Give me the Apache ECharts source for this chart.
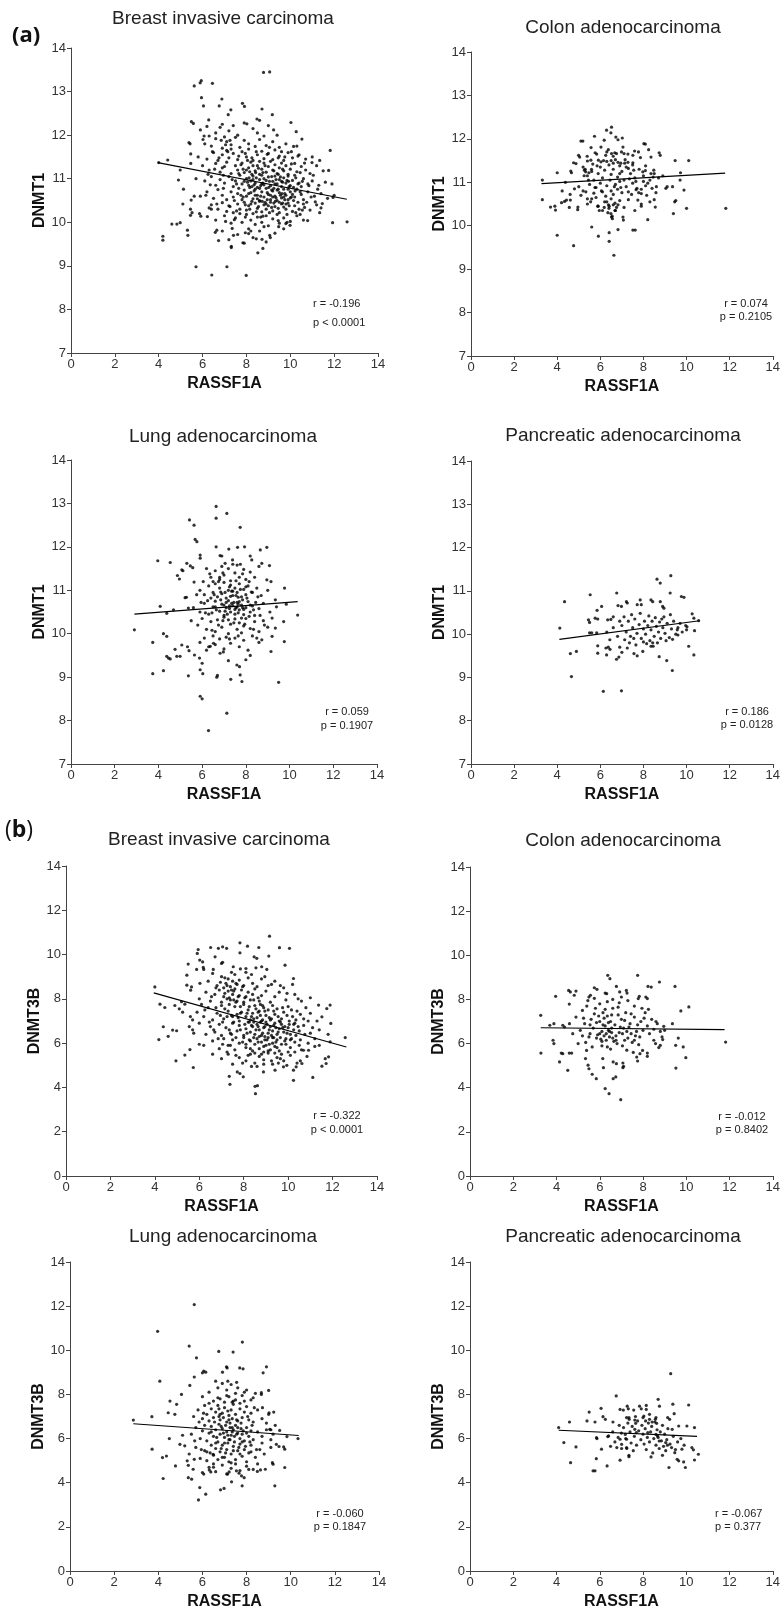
<!DOCTYPE html>
<html lang="en">
<head>
<meta charset="UTF-8">
<title>RASSF1A vs DNMT1 / DNMT3B</title>
<style>
  html, body { margin: 0; padding: 0; background: #fff; }
  #main { width: 783px; height: 1611px; }
</style>
</head>
<body>
<div id="main"></div>
<script src="https://cdn.jsdelivr.net/npm/echarts@6/dist/echarts.min.js"></script>
<script>
// ---- data: [RASSF1A, DNMT] ----
var breastDnmt1 = [
  [8.78,13.44],[9.06,13.45],[5.94,13.25],[5.89,13.2],[5.62,13.13],[6.45,13.19],[5.95,12.86],[6.04,12.67],[6.88,12.83],[7.82,12.73],[7.91,12.66],[8.71,12.6],[6.76,12.67],[7.29,12.58],[7.17,12.47],[9.18,12.47],[5.49,12.31],[5.58,12.27],[8.48,12.37],[8.6,12.34],[10.03,12.29],[10.27,12.08],[5.43,11.8],[5.38,11.83],[6.07,11.98],[6.02,11.9],[6.28,12.35],[8.02,12.26],[9.24,12.12],[10.53,11.91],[10.15,11.74],[11.82,11.65],[11.34,11.42],[10.99,11.37],[11.75,11.19],[5.46,11.57],[5.46,11.35],[4.98,11.2],[4.41,11.43],[4.0,11.37],[4.9,10.97],[5.13,10.76],[5.1,10.42],[5.48,10.51],[5.62,10.6],[5.45,10.3],[5.52,10.22],[5.45,10.16],[5.86,10.2],[5.92,10.14],[6.3,10.33],[6.4,10.3],[4.6,9.96],[4.83,9.96],[4.98,9.99],[4.19,9.68],[4.19,9.59],[5.31,9.82],[5.33,9.7],[5.7,8.98],[6.42,8.79],[7.11,8.98],[7.99,8.78],[8.52,9.3],[8.75,9.4],[7.31,9.45],[7.31,9.42],[7.84,9.53],[8.71,9.61],[6.73,9.58],[6.65,9.82],[6.58,9.77],[6.22,10.13],[11.93,9.99],[12.59,10.01],[10.79,10.04],[11.95,10.57],[11.46,10.43],[11.4,10.33],[11.34,10.22],[11.14,10.47],[9.47,9.9],[9.06,9.7],[9.09,9.65],[8.1,9.74],[8.2,9.8],[7.41,9.7],[9.8,9.97],[9.99,9.93],
  [6.2,12.2],[6.6,12.05],[6.9,12.25],[7.2,12.1],[7.4,12.22],[7.6,12.0],[8.3,12.15],[8.5,12.05],[9.0,12.22],[9.4,12.0],[6.8,12.18],[7.9,12.28],[5.9,12.12],
  [6.1,11.8],[6.4,11.75],[6.6,11.92],[6.9,11.7],[7.1,11.85],[7.3,11.78],[7.5,11.95],[7.7,11.72],[7.9,11.88],[8.1,11.8],[8.4,11.74],[8.6,11.9],[8.9,11.76],[9.2,11.85],[9.5,11.72],[9.8,11.8],[10.3,11.75],[6.3,11.98],[7.0,11.96],[8.8,11.98],
  [5.8,11.5],[6.2,11.45],[6.5,11.6],[6.7,11.42],[6.9,11.55],[7.1,11.65],[7.2,11.48],[7.4,11.58],[7.6,11.44],[7.8,11.62],[8.0,11.5],[8.1,11.68],[8.3,11.42],[8.5,11.55],[8.7,11.63],[8.8,11.46],[9.0,11.58],[9.2,11.44],[9.3,11.66],[9.5,11.52],[9.7,11.42],[9.9,11.6],[10.1,11.48],[10.4,11.55],[10.7,11.45],[11.0,11.5],[7.3,11.68],[8.6,11.4],[9.6,11.62],
  [6.0,11.3],[6.3,11.2],[6.6,11.35],[6.8,11.15],[7.0,11.28],[7.1,11.38],[7.3,11.12],[7.5,11.3],[7.6,11.2],[7.8,11.36],[7.9,11.14],[8.1,11.25],[8.2,11.38],[8.4,11.18],[8.5,11.3],[8.6,11.1],[8.7,11.22],[8.8,11.36],[8.9,11.15],[9.0,11.28],[9.1,11.4],[9.2,11.2],[9.3,11.32],[9.4,11.12],[9.5,11.25],[9.6,11.36],[9.7,11.18],[9.8,11.3],[9.9,11.1],[10.0,11.22],[10.2,11.35],[10.3,11.16],[10.5,11.28],[10.7,11.2],[10.9,11.12],[11.2,11.3],[11.5,11.18],[8.0,11.2],[8.3,11.3],[9.15,11.05],[6.9,11.25],
  [5.7,11.0],[6.1,10.95],[6.4,11.05],[6.6,10.85],[6.8,10.98],[7.0,10.9],[7.2,11.05],[7.4,10.82],[7.5,10.95],[7.7,11.08],[7.8,10.88],[8.0,11.0],[8.1,10.85],[8.2,10.95],[8.3,11.06],[8.4,10.9],[8.5,10.8],[8.6,10.98],[8.7,11.08],[8.8,10.86],[8.9,10.96],[9.0,11.04],[9.1,10.84],[9.2,10.94],[9.3,11.06],[9.4,10.88],[9.5,10.98],[9.6,10.82],[9.7,11.02],[9.8,10.9],[9.9,11.06],[10.0,10.84],[10.1,10.96],[10.2,11.08],[10.4,10.9],[10.5,10.82],[10.6,11.0],[10.8,10.88],[11.0,10.95],[11.3,10.85],[11.6,10.92],[11.9,10.88],[8.25,10.82],[9.45,11.1],[8.75,10.9],[9.65,10.92],[7.9,10.94],
  [5.9,10.6],[6.2,10.7],[6.5,10.55],[6.7,10.75],[6.9,10.62],[7.1,10.52],[7.3,10.7],[7.4,10.58],[7.6,10.66],[7.8,10.52],[7.9,10.74],[8.0,10.6],[8.2,10.68],[8.3,10.54],[8.4,10.76],[8.5,10.62],[8.6,10.5],[8.7,10.7],[8.8,10.58],[8.9,10.78],[9.0,10.64],[9.1,10.52],[9.2,10.72],[9.3,10.6],[9.4,10.5],[9.5,10.68],[9.6,10.56],[9.7,10.76],[9.8,10.62],[9.9,10.52],[10.0,10.7],[10.2,10.58],[10.3,10.76],[10.5,10.64],[10.6,10.52],[10.8,10.7],[11.1,10.6],[11.4,10.66],[11.7,10.55],[12.0,10.62],[8.15,10.8],[9.25,10.78],
  [6.4,10.4],[6.7,10.3],[6.9,10.45],[7.1,10.25],[7.2,10.38],[7.4,10.22],[7.6,10.42],[7.7,10.3],[7.9,10.46],[8.0,10.28],[8.1,10.38],[8.3,10.2],[8.4,10.44],[8.5,10.32],[8.7,10.24],[8.8,10.4],[8.9,10.3],[9.1,10.46],[9.2,10.26],[9.3,10.36],[9.5,10.22],[9.6,10.42],[9.8,10.3],[9.9,10.44],[10.1,10.25],[10.2,10.38],[10.4,10.3],[10.6,10.42],[10.9,10.28],[11.2,10.4],[8.6,10.48],[9.7,10.35],
  [6.6,10.05],[7.0,10.15],[7.3,9.98],[7.5,10.1],[7.8,10.0],[8.0,10.18],[8.2,10.05],[8.4,9.95],[8.5,10.12],[8.7,10.0],[8.9,10.15],[9.0,9.92],[9.2,10.08],[9.4,10.18],[9.5,9.98],[9.7,10.1],[10.0,10.02],[10.3,10.15],[10.6,10.05],[8.8,9.9],[7.7,10.2],
  [6.9,9.8],[7.2,9.6],[7.6,9.72],[8.1,9.85],[8.3,9.65],[8.6,9.8],[8.9,9.55],[9.3,9.75],[9.7,9.85],[7.9,9.52],
  [7.55,10.88],[7.65,11.12],[7.75,10.62],[7.85,11.22],[7.95,10.4],[8.05,10.92],[8.15,11.16],[8.25,10.48],[8.35,10.72],[8.45,11.02],[8.55,10.36],[8.65,10.84],[8.75,11.14],[8.85,10.46],[8.95,10.68],[9.05,10.94],[9.15,10.34],[9.25,11.18],[9.35,10.56],[9.45,10.76],[9.55,11.04],[9.65,10.44],[9.75,10.66],[9.85,10.96],[9.95,10.38],[10.05,10.58],[10.15,10.8],[10.25,11.02],[10.35,10.46],[10.45,10.7],[10.55,10.94],[10.65,10.34],
  [7.45,10.5],[7.55,10.26],[7.65,10.78],[7.75,11.32],[7.85,10.58],[7.95,10.12],[8.05,11.42],[8.15,10.3],[8.25,11.1],[8.35,10.86],[8.45,10.24],[8.55,11.24],[8.65,10.6],[8.75,10.14],[8.85,11.3],[8.95,10.52],[9.05,10.22],[9.15,10.74],[9.25,10.44],[9.35,10.98],[9.45,10.32],[9.55,10.62],[9.65,11.22],[9.75,10.52],[9.85,10.18],[9.95,10.82],[10.05,11.34],[10.15,10.5],[10.25,10.22],[10.35,10.88],[10.45,11.14],[10.55,10.28],
  [8.1,10.66],[8.3,10.98],[8.5,10.54],[8.7,10.88],[8.9,10.42],[9.1,10.62],[9.3,10.88],[9.5,10.46],[9.7,10.58],[9.9,10.76],[10.1,10.64],[8.2,10.42],[8.4,10.62],[8.6,10.78],[8.8,11.0],[9.0,10.38],[9.2,10.58],[9.4,10.74],[9.6,10.94],[9.8,10.42],[10.0,10.56],[8.12,11.02],[8.42,11.14],[8.72,10.48],[9.02,10.8],[9.32,10.48],[9.62,10.66],[9.92,10.94],[10.22,10.72],
  [6.55,11.22],[6.75,11.48],[6.95,11.08],[7.15,11.62],[7.35,10.98],[7.05,11.78],[6.45,11.62],[6.85,11.88],[7.25,11.88],[7.65,11.52],[6.25,11.1],[6.15,10.62],[6.35,10.86],[6.65,10.42],[6.95,10.78],[7.25,10.36],[7.05,10.02],[7.45,10.06],[7.35,9.86],[7.95,9.76],[8.45,9.62],[8.65,10.12],[9.45,10.04],[9.85,10.0],[10.45,10.18],[10.75,10.46],[10.85,10.84],[11.05,11.08],[10.95,10.58],[11.25,10.76],[10.65,11.36],[10.35,11.52],[9.45,11.48],[8.95,11.56],[8.45,11.62],[8.25,11.48],[7.95,11.58],[9.75,11.5],[10.05,11.62],[9.05,11.72]
];
var colonDnmt1 = [
  [6.52,12.27],[6.29,12.2],[6.49,12.14],[6.72,12.04],[7.02,12.02],[5.73,12.06],[5.1,11.95],[5.19,11.95],[6.18,11.97],[6.82,11.98],[6.03,11.81],[5.57,11.8],[8.02,11.89],[8.09,11.88],[7.05,11.81],[6.37,11.75],[6.3,11.7],[7.59,11.72],[7.77,11.7],[8.24,11.75],[8.73,11.68],[8.78,11.62],[4.99,11.62],[5.04,11.58],[5.39,11.6],[5.76,11.68],[5.83,11.65],[6.52,11.66],[6.67,11.68],[6.75,11.66],[6.98,11.7],[7.1,11.66],[7.28,11.65],[7.51,11.62],[7.86,11.57],[8.35,11.58],[9.47,11.5],[10.1,11.5],[4.76,11.45],[4.87,11.43],[5.4,11.49],[5.56,11.51],[5.91,11.51],[6.03,11.47],[6.3,11.48],[6.5,11.5],[6.6,11.44],[6.82,11.46],[6.95,11.44],[7.13,11.44],[7.28,11.46],[7.51,11.45],[5.2,11.35],[5.26,11.28],[5.32,11.24],[5.47,11.22],[5.59,11.3],[4.63,11.26],[4.66,11.22],[4.0,11.22],[4.38,11.0],[3.31,11.05],[3.31,10.6],[3.69,10.43],[3.89,10.45],[4.2,10.53],[4.34,10.56],[4.43,10.59],[4.61,10.59],[4.23,10.8],[3.92,10.36],[4.56,10.42],[4.96,10.43],[4.95,10.37],[5.6,9.97],[5.91,9.76],[4.76,9.54],[4.0,9.78],[6.41,9.84],[6.41,9.64],[6.63,9.32],[6.82,9.91],[7.51,9.9],[7.62,9.9],[8.2,10.14],[9.39,10.28],[10.0,10.4],[11.82,10.4],[9.45,10.55],[9.5,10.58],[9.88,10.82],[9.72,11.22],[9.7,11.05],[9.35,10.9],[9.04,10.86],[9.1,10.9],[8.55,10.43],[8.58,10.76],[8.5,10.6],[7.9,10.5],[7.74,10.59],[7.66,10.83],[7.78,10.76],[7.9,10.84],[8.35,11.2],[8.45,11.12],[8.48,11.28],[7.97,11.24],[8.09,11.27],[7.05,10.2],[7.07,10.13],[6.49,10.28],[6.52,10.2],[6.56,10.16],[6.68,10.35],[6.3,10.55],[6.38,10.48],[6.41,10.45],[6.68,10.52],[6.82,10.48],[6.75,10.42],[5.8,10.65],[5.88,10.45],[5.95,10.35],[6.1,10.35],[6.18,10.42],[5.1,10.7],[5.33,10.78],[5.4,10.62],[5.55,10.55],
  [5.3,11.3],[5.4,11.15],[5.6,11.25],[5.7,11.05],[5.9,11.2],[6.0,11.35],[6.1,11.1],[6.2,11.28],[6.4,11.4],[6.5,11.18],[6.6,11.3],[6.8,11.12],[6.9,11.38],[7.0,11.25],[7.1,11.05],[7.2,11.35],[7.4,11.2],[7.5,11.4],[7.6,11.1],[7.8,11.3],[8.0,11.15],[8.1,11.38],[8.3,11.05],[8.5,11.2],[8.7,11.1],[8.9,11.15],
  [5.0,10.9],[5.2,10.8],[5.5,10.95],[5.7,10.75],[5.8,10.88],[6.0,10.98],[6.1,10.78],[6.3,10.92],[6.5,10.8],[6.6,10.72],[6.7,10.95],[6.8,10.84],[7.0,10.76],[7.2,10.9],[7.3,10.78],[7.5,10.98],[7.7,10.86],[7.9,10.74],[8.1,10.92],[8.4,10.86],[8.6,10.9],[4.8,10.85],[4.6,10.72],
  [5.4,10.5],[5.6,10.62],[5.9,10.45],[6.2,10.55],[6.4,10.4],[6.5,10.62],[6.6,10.48],[6.7,10.35],[6.9,10.58],[7.1,10.42],[7.3,10.6],[7.6,10.35],[7.9,10.45],[8.3,10.55],[6.35,10.3],[6.55,10.22],
  [6.25,11.62],[6.45,11.05],[6.7,11.52],[6.9,11.02],[7.15,11.52],[7.35,11.08],[7.55,11.28],[5.85,11.38],[5.65,11.42],[5.45,11.05],[6.05,10.8],[6.25,10.68],[6.65,10.9],[6.95,10.88],[7.45,10.72],[7.65,11.02],[8.2,10.98],[8.15,10.7],[5.25,11.15],[5.75,10.88],[6.15,11.5],[6.6,11.6],[6.9,11.2],[7.3,11.32],[8.0,11.02]
];
var lungDnmt1 = [
  [6.64,12.93],[6.64,12.66],[7.13,12.77],[5.42,12.62],[5.63,12.5],[7.74,12.45],[5.68,12.17],[5.76,12.12],[6.64,12.0],[7.62,11.99],[7.94,12.0],[8.96,11.99],[8.66,11.93],[7.22,11.95],[3.97,11.68],[4.54,11.64],[5.91,11.81],[5.91,11.74],[6.82,11.8],[6.9,11.79],[7.39,11.7],[8.2,11.79],[8.27,11.7],[8.73,11.62],[9.08,11.57],[5.3,11.62],[5.46,11.56],[5.57,11.52],[5.07,11.47],[5.12,11.45],[4.87,11.34],[4.96,11.26],[5.63,11.19],[8.96,11.24],[9.15,11.2],[9.77,11.05],[9.35,10.78],[9.85,10.68],[10.37,10.43],[4.08,10.63],[4.38,10.47],[4.69,10.55],[5.22,10.83],[5.28,10.84],[5.37,10.59],[2.9,10.09],[3.74,9.8],[4.23,10.0],[4.38,9.94],[3.74,9.08],[4.23,9.15],[4.38,9.48],[4.46,9.44],[4.54,9.42],[4.76,9.64],[4.84,9.48],[4.99,9.48],[5.07,9.74],[5.33,9.7],[5.4,9.61],[5.37,9.03],[5.65,9.51],[5.88,9.44],[5.91,9.17],[6.03,9.08],[6.0,9.32],[5.91,8.56],[6.0,8.5],[7.13,8.17],[6.29,7.77],[7.31,8.95],[7.74,9.05],[7.82,8.9],[6.67,9.0],[6.7,9.04],[9.5,8.88],[7.59,9.28],[7.71,9.24],[8.0,9.4],[8.2,9.5],[9.15,9.59],[9.76,9.82],[9.2,9.94],[8.73,9.86],[8.5,9.9],[9.35,10.13],[9.73,10.28],[6.82,9.55],[6.97,9.58],[7.2,9.38],[6.37,9.71],[6.52,9.78],
  [6.2,11.5],[6.4,11.3],[6.6,11.45],[6.8,11.25],[6.9,11.55],[7.0,11.35],[7.2,11.5],[7.3,11.22],[7.5,11.4],[7.6,11.58],[7.7,11.3],[7.9,11.48],[8.0,11.25],[8.2,11.42],[8.4,11.3],[8.6,11.55],[6.5,11.2],[7.4,11.6],
  [5.9,11.0],[6.1,10.9],[6.3,11.1],[6.5,10.95],[6.6,11.15],[6.7,10.85],[6.8,11.05],[6.9,10.92],[7.0,11.18],[7.1,10.82],[7.2,11.0],[7.3,11.12],[7.4,10.88],[7.5,11.05],[7.6,10.95],[7.7,11.15],[7.8,10.85],[7.9,11.02],[8.0,10.9],[8.1,11.1],[8.3,10.95],[8.5,11.05],[8.7,10.88],[9.0,11.0],[6.4,10.82],[7.35,10.98],[7.65,10.84],
  [5.6,10.6],[5.9,10.5],[6.1,10.7],[6.3,10.45],[6.5,10.62],[6.6,10.75],[6.8,10.52],[6.9,10.68],[7.0,10.42],[7.1,10.6],[7.2,10.76],[7.3,10.5],[7.4,10.65],[7.5,10.45],[7.6,10.72],[7.7,10.55],[7.8,10.66],[7.9,10.44],[8.0,10.6],[8.1,10.74],[8.2,10.5],[8.3,10.64],[8.4,10.42],[8.6,10.58],[8.8,10.7],[9.1,10.5],[9.4,10.62],[7.25,10.58],[7.55,10.6],[7.85,10.78],
  [5.8,10.2],[6.0,10.35],[6.2,10.1],[6.4,10.28],[6.6,10.05],[6.7,10.32],[6.9,10.15],[7.0,10.38],[7.2,10.0],[7.3,10.22],[7.5,10.34],[7.6,10.1],[7.7,10.25],[7.8,10.02],[7.9,10.18],[8.0,10.35],[8.2,10.12],[8.4,10.28],[8.6,10.05],[8.8,10.3],[9.0,10.15],[9.2,10.36],[5.5,10.3],
  [5.9,9.8],[6.1,9.9],[6.3,9.7],[6.5,9.95],[6.6,9.75],[6.8,9.88],[7.0,9.65],[7.1,9.92],[7.3,9.78],[7.5,9.9],[7.7,9.7],[7.9,9.85],[8.1,9.62],[8.3,9.95],[8.6,9.8],[6.2,9.62],
  [6.55,10.9],[6.65,10.55],[6.75,11.2],[6.85,10.78],[6.95,10.3],[7.05,10.95],[7.15,10.45],[7.25,11.08],[7.35,10.7],[7.45,10.25],[7.55,10.88],[7.65,10.48],[7.75,11.02],[7.85,10.6],[7.95,10.22],[8.05,10.82],[8.15,10.4],[8.25,10.96],[8.35,10.55],[8.45,10.72],
  [6.6,10.62],[6.8,11.3],[7.0,10.66],[7.2,10.32],[7.4,10.98],[7.6,10.62],[7.8,10.36],[8.0,11.08],[8.2,10.66],[7.1,10.72],[7.3,10.86],[7.5,10.56],[7.7,10.74],[7.9,10.56],[7.45,10.72],[7.25,10.64],[7.65,10.68],[7.05,10.52],[6.85,10.96],[6.45,10.48],[6.25,10.76],[6.95,11.4],[7.55,11.22],[7.85,11.38],[8.15,11.2],[8.55,10.85],[8.65,10.42],[8.85,10.2],[8.35,10.1],[7.65,9.95],[7.25,9.88],[6.75,10.2],[6.45,10.08],[6.15,10.48],[5.95,10.72],[6.05,11.2],[6.35,11.38],[5.75,10.9],[7.05,11.62],[7.75,11.6]
];
var pancDnmt1 = [
  [9.27,11.35],[8.63,11.27],[8.78,11.18],[4.34,10.75],[5.53,10.91],[6.76,10.95],[9.24,10.95],[9.76,10.87],[9.88,10.85],[4.12,10.14],[4.61,9.55],[4.89,9.6],[4.66,9.02],[6.14,8.68],[6.98,8.69],[6.06,10.64],[7.21,10.75],[6.82,10.66],[6.98,10.64],[7.25,10.72],[7.85,10.79],[7.9,10.68],[7.71,10.68],[8.35,10.79],[8.43,10.75],[8.78,10.75],[8.89,10.64],[8.95,10.6],[5.45,10.33],[5.5,10.27],[5.76,10.37],[5.85,10.55],[5.88,10.35],[6.34,10.33],[6.49,10.34],[6.6,10.4],[5.5,10.03],[5.6,10.03],[5.83,10.03],[5.88,9.73],[5.88,9.56],[6.26,9.68],[6.37,9.7],[6.29,9.52],[6.44,9.87],[6.75,9.42],[6.86,9.47],[6.9,9.7],[7.13,9.87],[7.25,9.68],[7.56,9.55],[7.71,9.5],[7.97,9.6],[8.35,9.72],[8.43,9.8],[8.73,9.48],[9.08,9.39],[9.34,9.16],[10.1,9.72],[10.34,9.52],[10.37,10.08],[10.56,10.31],[10.26,10.47],[10.34,10.37],[9.96,10.2],[10.02,10.17],[9.57,10.1],[9.6,9.98],
  [7.0,10.2],[7.2,10.05],[7.3,10.3],[7.4,9.95],[7.5,10.15],[7.6,10.35],[7.7,10.02],[7.8,10.22],[7.9,9.9],[8.0,10.12],[8.05,10.3],[8.1,10.0],[8.2,10.2],[8.3,9.85],[8.35,10.1],[8.4,10.3],[8.5,9.95],[8.6,10.18],[8.7,10.05],[8.75,10.28],[8.8,9.9],[8.9,10.15],[9.0,10.02],[9.1,10.25],[9.2,9.92],[9.3,10.12],[9.4,10.3],[9.5,10.0],[9.6,10.15],[9.8,10.05],[7.1,10.4],[7.45,10.45],[7.85,10.48],[8.25,10.42],[8.55,10.38],[8.95,10.4],[9.25,10.45],[7.35,9.8],[7.65,9.75],[8.15,9.78],[8.45,9.72],[8.65,9.8],[9.05,9.85],[9.35,9.88],[6.6,10.15],[6.8,9.95],[6.3,10.05],[6.9,10.3],[7.55,9.9],[8.85,10.35],[8.0,9.82],[9.7,10.25],[10.0,10.1],[6.45,9.65],[7.0,9.58]
];
var breastDnmt3b = [
  [9.16,10.83],[7.83,10.53],[8.17,10.38],[8.68,10.32],[9.61,10.31],[10.06,10.28],[5.95,10.23],[5.91,10.05],[6.51,10.32],[6.86,10.28],[7.05,10.35],[7.23,10.28],[7.83,10.08],[9.13,9.93],[6.71,9.9],[8.47,9.9],[8.59,9.83],[6.02,9.75],[6.15,9.67],[9.86,9.52],[5.5,9.57],[6.18,9.42],[6.2,9.33],[6.63,9.33],[7.0,9.6],[7.05,9.65],[7.53,9.45],[8.81,9.45],[9.04,9.33],[8.1,9.37],[5.44,9.07],[5.88,9.33],[10.24,8.92],[5.44,8.62],[5.65,8.54],[5.61,8.39],[6.03,8.7],[4.0,8.54],[4.23,7.76],[4.45,7.61],[4.38,6.74],[4.18,6.16],[4.8,6.59],[4.98,6.56],[4.6,6.31],[4.95,5.2],[5.35,5.46],[5.58,5.71],[5.73,4.9],[5.2,7.87],[5.35,7.76],[5.1,7.55],[5.25,7.4],[4.9,7.7],[5.6,7.2],[5.7,7.05],[5.55,6.75],[5.75,6.45],[6.0,5.95],[7.35,4.5],[7.38,4.14],[7.71,4.7],[7.83,4.63],[7.98,4.48],[8.51,4.05],[8.62,4.08],[8.53,3.72],[8.89,4.7],[9.41,4.78],[10.24,4.32],[11.11,4.45],[11.52,4.96],[11.71,5.08],[11.89,6.06],[11.92,6.89],[11.89,7.72],[11.74,7.56],[11.37,7.72],[11.52,7.19],[12.57,6.25],[11.82,5.38],[11.67,5.3],[10.69,5.68],[10.92,5.68],[10.62,5.08],[10.36,4.93],[10.24,4.78],[9.94,5.0],[9.79,4.93],[9.56,5.1],
  [6.4,8.8],[6.8,8.6],[7.0,9.0],[7.2,8.7],[7.3,8.9],[7.4,8.55],[7.5,8.8],[7.6,9.1],[7.7,8.65],[7.8,8.85],[8.0,8.6],[8.2,8.95],[8.4,8.7],[8.6,8.55],[8.8,8.9],[9.1,8.6],[9.4,8.8],[9.8,8.5],[10.2,8.65],[6.6,9.15],[8.1,9.2],[7.1,8.5],
  [6.0,8.0],[6.3,8.3],[6.5,7.9],[6.7,8.2],[6.9,8.4],[7.0,7.85],[7.1,8.1],[7.3,8.35],[7.4,7.95],[7.5,8.2],[7.6,8.45],[7.7,7.9],[7.8,8.15],[7.9,8.4],[8.0,7.85],[8.1,8.1],[8.2,8.3],[8.3,7.95],[8.4,8.2],[8.5,8.45],[8.7,7.9],[8.8,8.15],[9.0,8.35],[9.2,7.85],[9.4,8.1],[9.6,8.3],[9.9,7.95],[10.3,8.2],[10.6,7.9],[11.0,8.05],[7.25,8.0],[8.65,8.05],
  [5.9,7.4],[6.2,7.2],[6.4,7.6],[6.6,7.05],[6.8,7.35],[7.0,7.7],[7.1,7.1],[7.3,7.45],[7.5,7.2],[7.6,7.65],[7.8,7.0],[7.9,7.4],[8.0,7.75],[8.1,7.2],[8.2,7.5],[8.3,7.05],[8.4,7.35],[8.5,7.7],[8.6,7.15],[8.7,7.45],[8.8,7.0],[8.9,7.6],[9.0,7.25],[9.1,7.5],[9.2,7.05],[9.3,7.7],[9.4,7.3],[9.5,7.55],[9.7,7.1],[9.8,7.4],[10.0,7.65],[10.2,7.2],[10.4,7.45],[10.7,7.1],[11.0,7.35],[11.3,7.0],[6.1,7.75],[7.7,7.3],[8.75,7.75],[9.6,7.0],
  [5.7,6.6],[6.0,6.9],[6.3,6.4],[6.5,6.75],[6.7,6.5],[6.9,6.85],[7.0,6.35],[7.2,6.7],[7.4,6.45],[7.5,6.9],[7.7,6.55],[7.8,6.8],[8.0,6.35],[8.1,6.65],[8.2,6.95],[8.3,6.5],[8.4,6.75],[8.5,6.4],[8.6,6.85],[8.7,6.6],[8.8,6.35],[8.9,6.7],[9.0,6.95],[9.1,6.45],[9.2,6.75],[9.3,6.55],[9.4,6.9],[9.5,6.4],[9.6,6.65],[9.7,6.85],[9.8,6.5],[10.0,6.7],[10.1,6.4],[10.3,6.9],[10.5,6.55],[10.7,6.8],[11.0,6.45],[11.4,6.6],[11.8,6.4],[8.95,6.3],[9.35,6.25],[8.45,6.95],
  [6.2,5.9],[6.6,6.1],[6.9,5.75],[7.1,6.2],[7.3,5.9],[7.5,6.15],[7.6,5.7],[7.8,6.0],[8.0,6.25],[8.1,5.8],[8.3,6.1],[8.4,5.65],[8.5,5.95],[8.6,6.2],[8.7,5.75],[8.8,6.05],[8.9,5.6],[9.0,5.9],[9.1,6.25],[9.2,5.7],[9.3,6.0],[9.4,5.85],[9.5,6.15],[9.6,5.65],[9.7,5.95],[9.9,6.2],[10.1,5.8],[10.3,6.05],[10.6,5.7],[10.9,6.0],[11.2,5.85],[8.95,6.15],[9.15,5.95],
  [7.0,5.3],[7.3,5.5],[7.5,5.05],[7.8,5.35],[8.1,5.2],[8.3,5.5],[8.5,5.1],[8.7,5.4],[8.9,5.25],[9.1,5.55],[9.3,5.05],[9.5,5.35],[9.8,5.2],[10.1,5.45],[10.4,5.1],[6.6,5.5],[8.6,4.95],
  [7.15,8.25],[7.25,8.6],[7.35,7.75],[7.45,8.4],[7.55,7.95],[7.65,8.7],[7.75,8.1],[7.85,7.65],[7.95,8.55],[7.35,8.05],[7.55,8.35],[7.15,7.55],[7.45,7.25],[7.65,7.85],[7.85,7.35],[8.05,8.05],[8.25,7.65],[8.45,7.95],[8.65,7.4],[8.85,7.7],
  [8.05,6.85],[8.15,6.45],[8.25,6.15],[8.35,6.8],[8.45,6.25],[8.55,6.6],[8.65,6.05],[8.75,6.95],[8.85,6.45],[8.95,6.75],[9.05,6.15],[9.15,6.6],[9.25,6.35],[9.35,6.8],[9.45,6.05],[9.55,6.5],[9.65,6.25],[9.75,6.7],[9.85,6.1],[9.95,6.45],[10.05,6.85],[10.15,6.2],[10.25,6.6],[10.35,6.35],[10.45,6.75],[10.55,6.15],
  [8.1,5.95],[8.3,5.75],[8.5,5.55],[8.7,6.3],[8.9,5.85],[9.1,5.65],[9.3,6.25],[9.5,5.8],[9.7,5.5],[9.9,5.95],[10.1,6.15],[10.3,5.6],[10.5,5.9],[8.2,5.45],[8.8,5.5],[9.4,5.55],[10.0,5.6],
  [8.15,7.35],[8.35,7.2],[8.55,7.55],[8.75,7.25],[8.95,7.45],[9.15,7.15],[9.35,7.45],[9.55,7.2],[9.75,7.6],[9.95,7.25],[10.15,7.5],[10.35,7.05],[10.55,7.3],[8.25,6.95],[8.45,7.1],[8.65,6.75],[8.85,7.05],[9.05,6.85],[9.25,7.1],[9.45,6.7],[9.65,6.95],[9.85,6.75],[10.05,7.0],[10.25,6.85],
  [6.75,7.6],[6.95,7.25],[7.05,6.95],[7.25,7.2],[7.35,6.6],[7.55,6.95],[7.65,6.25],[7.75,7.15],[7.85,6.6],[7.95,6.05],[6.85,6.2],[7.05,5.95],[7.25,5.6],[7.45,6.4],[6.65,6.6],[6.45,6.95],[6.25,7.5],[6.55,8.1],[6.75,8.5],[6.95,8.75],[7.15,8.95],[7.45,9.2],[7.85,9.35],[8.35,9.1],[8.55,9.4],[8.95,9.0],[9.25,8.65],[9.65,8.6],[9.95,8.25],[10.45,8.0],[10.8,7.6],[10.9,7.0],[11.1,6.7],[11.2,6.2],[11.4,5.9],[10.75,6.4],[10.85,5.4],[10.55,5.2],[9.65,5.3],[9.25,5.2],[8.9,5.05],[8.35,4.95],[7.95,5.1],[7.65,5.45],[7.4,5.9]
];
var colonDnmt3b = [
  [6.37,9.09],[6.47,8.94],[7.75,9.09],[8.76,8.79],[9.48,8.59],[8.38,8.56],[6.77,8.59],[5.75,8.53],[5.87,8.46],[4.56,8.41],[4.64,8.34],[4.9,8.38],[3.96,8.14],[4.82,8.19],[5.5,8.11],[5.57,8.19],[6.25,8.29],[6.32,8.26],[7.23,8.41],[7.26,8.29],[6.92,8.34],[7.0,8.11],[8.23,8.59],[8.13,8.11],[8.2,8.04],[7.78,8.04],[7.83,8.14],[10.12,7.66],[9.75,7.48],[4.59,7.79],[3.27,7.28],[3.69,6.83],[3.88,6.9],[4.29,6.83],[4.37,6.75],[3.84,6.15],[3.88,6.0],[3.28,5.57],[4.22,5.57],[4.29,5.54],[4.59,5.57],[4.7,5.57],[4.14,5.17],[4.52,4.79],[5.34,5.32],[5.39,5.69],[5.46,5.02],[5.5,4.86],[5.65,4.61],[5.84,4.41],[6.17,4.91],[6.14,5.32],[6.25,3.96],[6.43,3.73],[6.97,3.46],[6.62,4.41],[6.74,4.49],[7.07,5.12],[7.1,4.97],[7.07,4.91],[6.62,5.17],[6.77,5.09],[7.75,5.21],[8.2,5.42],[8.2,5.57],[9.51,5.92],[9.86,5.85],[9.98,5.36],[9.52,4.89],[9.63,6.25],[9.36,6.9],[11.82,6.07],[8.96,6.78],[9.0,6.6],[8.66,6.9],[8.88,6.3],[8.91,6.18],[8.8,5.92],[8.73,5.82],[8.5,6.15],[8.58,6.0],[7.98,5.69],[7.86,5.54],[7.71,5.39],[7.6,6.15],
  [4.9,7.2],[5.1,6.6],[5.2,7.5],[5.3,6.9],[5.4,7.7],[5.5,6.3],[5.6,7.1],[5.7,6.7],[5.8,7.6],[5.9,6.4],[6.0,7.0],[6.05,6.2],[6.1,6.55],[6.15,7.4],[6.2,6.35],[6.25,6.8],[6.3,6.45],[6.35,7.25],[6.4,6.6],[6.45,6.3],[6.5,7.0],[6.55,6.5],[6.6,7.6],[6.65,6.1],[6.7,6.85],[6.8,6.0],[6.85,7.3],[6.9,6.5],[7.0,7.1],[7.05,5.9],[7.1,6.7],[7.2,7.4],[7.3,6.25],[7.4,6.9],[7.5,6.05],[7.6,7.2],[7.7,6.55],[7.8,5.95],[7.9,7.0],[8.0,6.6],[8.1,7.4],[8.2,6.8],[8.3,6.45],[8.4,7.1],[8.5,6.65],[5.0,6.0],[5.35,6.05],[5.65,5.85],[6.1,5.9],[6.5,5.75],[7.25,5.7],[7.55,5.6],[4.6,6.9],[4.75,6.45],[5.45,7.95],[5.75,8.05],[6.0,7.8],[6.35,7.9],[6.6,8.0],[6.9,7.85],[7.3,7.95],[7.6,7.7],[7.95,7.6],[8.25,7.55],[8.6,7.0],[8.8,6.55],[5.2,6.35],[5.55,6.85],[6.2,7.15],[6.75,6.35],[7.15,6.15],[7.45,6.45],[7.85,6.3],[6.4,6.95],[6.0,6.45],[6.3,6.15],[5.85,6.25],[6.55,6.7],
  [5.95,7.25],[6.25,7.55],[6.55,7.3],[6.85,7.65],[7.15,7.05],[7.45,7.35],[7.75,6.85],[8.05,7.15],[6.15,6.85],[6.45,6.55],[6.75,6.15],[7.05,6.45],[7.35,6.75],[7.65,6.35],[5.55,6.45],[5.25,7.15],[5.85,6.95],[6.35,5.85],[6.95,6.75],[7.25,6.55],[6.1,6.1],[6.6,6.25],[5.75,7.35]
];
var lungDnmt3b = [
  [5.63,12.07],[3.97,10.86],[5.4,10.19],[7.81,10.37],[6.74,9.95],[7.39,9.92],[5.73,9.66],[7.09,9.25],[7.12,9.2],[7.69,9.2],[7.84,9.16],[8.9,9.25],[6.06,9.06],[6.15,9.01],[6.0,8.98],[6.91,9.01],[8.75,8.98],[4.07,8.6],[5.63,8.79],[5.43,8.41],[5.05,8.0],[4.53,7.7],[4.83,7.55],[4.45,7.17],[4.75,7.1],[3.71,6.99],[2.87,6.84],[3.72,5.52],[4.19,5.14],[4.37,5.21],[4.22,4.19],[4.78,4.76],[4.5,6.0],[4.98,5.74],[5.1,6.15],[5.2,5.67],[5.31,4.99],[5.36,4.79],[5.36,4.23],[5.51,4.16],[5.88,3.78],[5.82,3.22],[6.15,3.48],[6.82,3.68],[6.98,3.74],[7.32,4.04],[7.8,3.86],[6.0,4.46],[6.06,4.39],[6.38,4.49],[6.31,4.58],[5.58,4.61],[5.63,5.06],[6.49,5.29],[7.14,4.39],[7.21,4.49],[7.54,4.54],[7.66,4.43],[7.77,4.31],[7.89,4.23],[8.49,4.51],[8.63,4.58],[8.85,4.61],[9.28,3.86],[9.17,4.91],[9.2,4.84],[9.73,4.69],[9.73,5.52],[9.68,5.62],[9.35,5.74],[9.47,5.64],[9.83,6.09],[9.05,6.42],[9.1,6.4],[9.5,6.37],[10.33,6.0],[9.02,7.17],[9.23,7.2],[9.0,8.18],[8.67,8.0],[8.72,7.4],[8.67,8.08],
  [6.0,7.9],[6.3,8.1],[6.5,7.7],[6.7,8.3],[6.8,7.8],[6.9,8.5],[7.0,7.65],[7.1,8.2],[7.2,7.9],[7.3,8.45],[7.4,7.7],[7.5,8.05],[7.6,8.3],[7.7,7.6],[7.8,7.95],[7.9,7.7],[8.0,8.2],[8.2,7.75],[8.4,8.05],[6.6,8.6],[7.15,8.6],[7.55,8.55],
  [5.6,7.0],[5.8,7.3],[6.0,6.9],[6.1,7.5],[6.2,7.1],[6.3,6.8],[6.4,7.35],[6.5,6.95],[6.6,7.2],[6.7,7.5],[6.8,6.85],[6.9,7.15],[7.0,7.4],[7.1,6.75],[7.2,7.05],[7.3,7.3],[7.35,6.9],[7.4,7.55],[7.5,7.1],[7.6,6.8],[7.7,7.35],[7.8,6.95],[7.9,7.2],[8.0,7.45],[8.1,6.85],[8.2,7.15],[8.3,6.75],[8.5,7.3],[8.7,6.9],[9.0,7.1],[6.75,7.0],[7.25,6.7],
  [5.5,6.2],[5.7,6.5],[5.9,6.0],[6.0,6.35],[6.1,6.6],[6.2,5.9],[6.3,6.25],[6.4,6.55],[6.5,6.1],[6.6,6.4],[6.7,5.85],[6.75,6.65],[6.8,6.2],[6.9,6.45],[7.0,6.05],[7.05,6.6],[7.1,6.3],[7.2,5.95],[7.25,6.5],[7.3,6.15],[7.4,6.4],[7.45,5.85],[7.5,6.6],[7.6,6.25],[7.7,6.0],[7.75,6.45],[7.8,6.2],[7.9,5.9],[8.0,6.5],[8.1,6.1],[8.2,6.35],[8.3,5.95],[8.5,6.3],[8.7,6.1],[8.9,6.4],[9.2,6.2],[7.35,6.3],[6.95,6.25],
  [5.4,5.3],[5.7,5.6],[5.9,5.1],[6.1,5.45],[6.2,5.0],[6.4,5.7],[6.5,5.25],[6.6,5.55],[6.7,5.05],[6.8,5.4],[6.9,5.7],[7.0,5.15],[7.1,5.5],[7.2,4.95],[7.3,5.3],[7.4,5.65],[7.5,5.05],[7.6,5.45],[7.7,5.75],[7.8,5.2],[7.9,5.5],[8.0,4.95],[8.1,5.35],[8.2,5.7],[8.4,5.15],[8.6,5.5],[8.8,5.3],[9.1,5.6],[6.35,5.35],[7.15,5.8],
  [6.3,4.7],[6.6,4.5],[6.9,4.8],[7.1,4.4],[7.3,4.65],[7.5,4.85],[7.7,4.55],[8.0,4.75],[8.3,4.6],[6.5,4.85],
  [6.55,6.75],[6.65,6.05],[6.75,7.35],[6.85,5.55],[6.95,6.95],[7.05,5.35],[7.15,7.25],[7.25,5.95],[7.35,7.65],[7.45,6.1],[7.55,6.85],[7.65,5.6],[7.75,6.7],[7.85,6.35],[7.95,5.65],[8.05,7.0],[8.15,5.85],[8.25,6.6],[8.35,7.4],[8.45,5.5],
  [6.4,6.3],[6.6,5.8],[6.8,7.1],[7.0,5.8],[7.2,6.85],[7.4,5.45],[7.6,6.5],[7.8,5.85],[8.0,6.25],[8.2,5.4],[6.3,7.6],[6.7,7.85],[7.1,7.95],[7.5,7.75],[7.9,8.1],[8.3,7.85],[6.2,5.4],[6.5,4.7],[6.9,5.15],[7.3,4.9],[7.7,5.3],[8.1,4.6],[8.5,4.85],[8.7,5.8],[8.9,6.7],[9.1,5.95],[9.3,6.6],[5.85,6.75],[5.65,5.9],[5.95,5.5],[6.05,7.15],[7.35,6.5],[7.15,6.15],[6.85,6.55],[7.55,6.2]
];
var pancDnmt3b = [
  [9.28,8.94],[6.76,7.93],[8.7,7.78],[10.11,7.52],[9.38,7.56],[8.76,7.47],[6.06,7.37],[5.51,7.2],[7.27,7.47],[7.32,7.35],[7.84,7.47],[7.92,7.35],[8.15,7.5],[8.15,7.32],[6.94,7.32],[7.09,7.29],[7.57,7.29],[9.14,6.95],[9.23,6.87],[9.44,7.13],[6.15,6.99],[6.26,6.87],[6.61,6.75],[5.41,6.8],[4.6,6.75],[5.78,6.75],[7.24,6.95],[7.36,6.87],[7.62,6.84],[7.66,6.69],[8.04,7.02],[8.12,6.8],[8.3,6.87],[8.42,6.75],[8.57,6.87],[8.63,6.69],[9.65,6.57],[10.03,6.57],[10.38,6.5],[9.35,6.42],[4.1,6.5],[4.34,5.82],[4.9,5.62],[4.65,4.91],[5.85,6.04],[5.87,6.0],[6.08,5.52],[5.84,5.09],[5.69,4.54],[5.78,4.54],[6.34,4.76],[6.94,5.02],[7.01,5.55],[7.24,5.59],[7.35,5.24],[7.35,5.18],[8.37,5.17],[8.9,5.24],[9.2,4.69],[9.58,5.06],[9.65,4.99],[9.88,4.94],[9.96,4.69],[10.38,5.03],[10.56,5.29],[10.26,5.59],[10.33,5.49],[9.8,5.52],[9.47,5.36],[9.32,5.59],[9.13,5.7],[9.05,5.82],[8.75,5.89],[8.6,6.19],[8.67,6.12],[8.22,6.27],[7.62,6.42],[7.69,6.27],[7.18,6.19],[7.24,5.97],[6.94,5.97],[7.01,5.74],[6.79,5.59],[6.41,6.12],[6.37,6.09],
  [7.1,6.5],[7.2,6.0],[7.3,6.7],[7.4,6.3],[7.45,5.8],[7.5,6.55],[7.6,6.1],[7.7,5.7],[7.75,6.8],[7.8,6.35],[7.9,5.95],[7.95,6.6],[8.0,6.2],[8.05,5.75],[8.1,6.45],[8.2,6.05],[8.25,6.7],[8.3,5.85],[8.35,6.3],[8.4,6.55],[8.5,6.0],[8.55,6.75],[8.6,5.7],[8.65,6.4],[8.7,6.05],[8.75,5.55],[8.8,6.3],[8.85,5.9],[8.9,6.6],[8.95,5.65],[9.0,6.2],[9.05,5.45],[9.1,5.95],[9.15,6.45],[9.25,5.75],[9.4,6.1],[9.5,5.5],[9.6,5.85],[9.75,6.0],[9.9,5.7],[7.0,6.25],[6.85,6.05],[6.7,5.85],[6.6,6.3],[7.25,5.55],[7.55,5.45],[8.15,5.5],[8.45,5.35],[7.35,6.95],[7.65,7.0],[8.0,6.95],[8.3,7.1],[8.6,6.95],[6.9,6.6],[6.5,5.65]
];

// regression line end points, [RASSF1A, DNMT]
var fitBreastDnmt1 = [[3.96, 11.37], [12.58, 10.53]];
var fitColonDnmt1 = [[3.27, 10.97], [11.79, 11.21]];
var fitLungDnmt1 = [[2.9, 10.45], [10.37, 10.74]];
var fitPancDnmt1 = [[4.1, 9.88], [10.6, 10.31]];
var fitBreastDnmt3b = [[3.95, 8.27], [12.62, 5.83]];
var fitColonDnmt3b = [[3.27, 6.72], [11.77, 6.63]];
var fitLungDnmt3b = [[2.87, 6.67], [10.36, 6.14]];
var fitPancDnmt3b = [[4.1, 6.38], [10.5, 6.1]];

var panelTitles = ['Breast invasive carcinoma', 'Colon adenocarcinoma', 'Lung adenocarcinoma', 'Pancreatic adenocarcinoma',
                   'Breast invasive carcinoma', 'Colon adenocarcinoma', 'Lung adenocarcinoma', 'Pancreatic adenocarcinoma'];
var yNames = ['DNMT1', 'DNMT1', 'DNMT1', 'DNMT1', 'DNMT3B', 'DNMT3B', 'DNMT3B', 'DNMT3B'];
var rLabels = ['r = -0.196', 'r = 0.074', 'r = 0.059', 'r = 0.186', 'r = -0.322', 'r = -0.012', 'r = -0.060', 'r = -0.067'];
var pLabels = ['p < 0.0001', 'p = 0.2105', 'p = 0.1907', 'p = 0.0128', 'p < 0.0001', 'p = 0.8402', 'p = 0.1847', 'p = 0.377'];
var xTicks = { min: 0, max: 14, interval: 2 };
var yTicksA = { min: 7, max: 14, interval: 1 };
var yTicksB = { min: 0, max: 14, interval: 2 };

var points = [breastDnmt1, colonDnmt1, lungDnmt1, pancDnmt1, breastDnmt3b, colonDnmt3b, lungDnmt3b, pancDnmt3b];
var fits = [fitBreastDnmt1, fitColonDnmt1, fitLungDnmt1, fitPancDnmt1, fitBreastDnmt3b, fitColonDnmt3b, fitLungDnmt3b, fitPancDnmt3b];

// ---- layout (pixels) ----
var boxes = [
  { left: 71,  top: 48,   width: 307, height: 305, tx: 223, ty: 19,   sx: 313, sa: 'left',   ry: 304,  py: 323 },
  { left: 471, top: 52,   width: 306, height: 304, tx: 623, ty: 28,   sx: 746, sa: 'center', ry: 304,  py: 317 },
  { left: 71,  top: 460,  width: 306, height: 304, tx: 223, ty: 437,  sx: 347, sa: 'center', ry: 712,  py: 726 },
  { left: 471, top: 461,  width: 306, height: 303, tx: 623, ty: 436,  sx: 747, sa: 'center', ry: 712,  py: 725 },
  { left: 66,  top: 866,  width: 311, height: 310, tx: 219, ty: 840,  sx: 337, sa: 'center', ry: 1116, py: 1130 },
  { left: 470, top: 867,  width: 310, height: 309, tx: 623, ty: 841,  sx: 742, sa: 'center', ry: 1117, py: 1130 },
  { left: 70,  top: 1262, width: 309, height: 310, tx: 223, ty: 1237, sx: 340, sa: 'center', ry: 1514, py: 1527 },
  { left: 470, top: 1262, width: 309, height: 310, tx: 623, ty: 1237, sx: 715, sa: 'left',   ry: 1514, py: 1527 }
];

var FONT = '"Liberation Sans", Arial, sans-serif';
var main = document.getElementById('main');
var chart = echarts.init(main, null, { renderer: 'canvas' });

var grids = [], xAxes = [], yAxes = [], series = [], graphics = [];

boxes.forEach(function (b, i) {
  grids.push({ left: b.left, top: b.top, width: b.width, height: b.height });
  var axisCommon = {
    gridIndex: i,
    nameLocation: 'middle',
    nameGap: 23,
    nameTextStyle: { fontFamily: FONT, fontSize: 16, fontWeight: 'bold', color: '#111' },
    axisLine: { show: true, onZero: false, lineStyle: { color: '#444', width: 1 } },
    axisTick: { show: true, inside: false, length: 4, lineStyle: { color: '#444' } },
    splitLine: { show: false },
    axisLabel: { fontFamily: FONT, fontSize: 13, color: '#333', margin: 5, showMinLabel: true, showMaxLabel: true }
  };
  xAxes.push(Object.assign({}, axisCommon, {
    type: 'value', name: 'RASSF1A',
    min: xTicks.min, max: xTicks.max, interval: xTicks.interval
  }));
  var yt = i < 4 ? yTicksA : yTicksB;
  yAxes.push(Object.assign({}, axisCommon, {
    type: 'value', name: yNames[i],
    min: yt.min, max: yt.max, interval: yt.interval
  }));
  series.push({
    type: 'scatter', xAxisIndex: i, yAxisIndex: i,
    data: points[i], symbol: 'circle', symbolSize: 3.2,
    itemStyle: { color: '#000' }, silent: true
  });
  series.push({
    type: 'line', xAxisIndex: i, yAxisIndex: i,
    data: fits[i], showSymbol: false, symbol: 'none',
    lineStyle: { color: '#000', width: 1.1 }, silent: true
  });
  graphics.push({
    type: 'text', x: b.tx, y: b.ty, silent: true,
    style: { text: panelTitles[i], fontFamily: FONT, fontSize: 19, fill: '#222', align: 'center', verticalAlign: 'middle' }
  });
  graphics.push({
    type: 'text', x: b.sx, y: b.ry, silent: true,
    style: { text: rLabels[i], fontFamily: FONT, fontSize: 11, fill: '#222', align: b.sa, verticalAlign: 'middle' }
  });
  graphics.push({
    type: 'text', x: b.sx, y: b.py, silent: true,
    style: { text: pLabels[i], fontFamily: FONT, fontSize: 11, fill: '#222', align: b.sa, verticalAlign: 'middle' }
  });
});

// panel letters
graphics.push({
  type: 'text', x: 12, y: 36, silent: true,
  style: { text: '(a)', fontFamily: '"Open Sans", sans-serif', fontSize: 22, fontWeight: 'bold', fill: '#111', verticalAlign: 'middle' }
});
graphics.push({
  type: 'text', x: 5, y: 830, silent: true,
  style: {
    text: '{p|(}{b|b}{p|)}', verticalAlign: 'middle',
    rich: {
      p: { fontFamily: '"Open Sans", sans-serif', fontSize: 23, fill: '#111' },
      b: { fontFamily: '"Open Sans", sans-serif', fontSize: 23, fontWeight: 'bold', fill: '#111' }
    }
  }
});

var option = {
  animation: false,
  backgroundColor: '#fff',
  grid: grids,
  xAxis: xAxes,
  yAxis: yAxes,
  series: series,
  graphic: graphics
};

chart.setOption(option);
window.onresize = function () { chart.resize(); };
</script>
</body>
</html>
